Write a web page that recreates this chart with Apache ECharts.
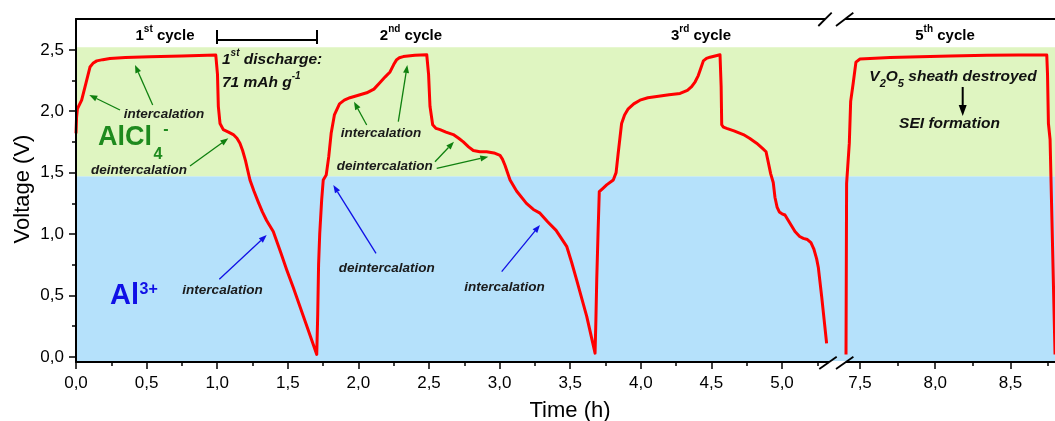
<!DOCTYPE html>
<html><head><meta charset="utf-8">
<script src="https://cdn.jsdelivr.net/npm/echarts@6/dist/echarts.min.js"></script>
<style>html,body{margin:0;padding:0;background:#fff}#c{width:1055px;height:421px}</style>
</head><body><div id="c"></div>
<script>
// ---- data (time in h, voltage in V) ----
const cycle1ChargeT = [0, 0.004, 0.01, 0.04, 0.071, 0.099, 0.12, 0.147, 0.19, 0.24, 0.35, 0.524, 0.75, 0.99];
const cycle1ChargeV = [1.82, 1.95, 2.02, 2.09, 2.23, 2.36, 2.39, 2.41, 2.42, 2.43, 2.437, 2.444, 2.45, 2.457];
const cycle1DischT = [0.996, 1.002, 1.008, 1.02, 1.043, 1.08, 1.114, 1.14, 1.161, 1.18, 1.2, 1.232, 1.26, 1.291, 1.32, 1.35, 1.397, 1.45, 1.492, 1.54, 1.586, 1.65, 1.705];
const cycle1DischV = [2.457, 2.3, 2.04, 1.90, 1.85, 1.83, 1.81, 1.78, 1.74, 1.68, 1.60, 1.44, 1.35, 1.26, 1.18, 1.11, 1.02, 0.85, 0.71, 0.56, 0.41, 0.2, 0.02];
const cycle2ChargeT = [1.712, 1.718, 1.726, 1.74, 1.751, 1.772, 1.79, 1.807, 1.83, 1.866, 1.9, 1.94, 2.0, 2.059, 2.11, 2.15, 2.19, 2.224, 2.25, 2.271, 2.29, 2.318, 2.4, 2.484];
const cycle2ChargeV = [0.35, 0.75, 1.0, 1.28, 1.44, 1.48, 1.63, 1.82, 1.97, 2.06, 2.09, 2.11, 2.13, 2.15, 2.18, 2.23, 2.28, 2.32, 2.38, 2.42, 2.435, 2.445, 2.455, 2.46];
const cycle2DischT = [2.49, 2.497, 2.507, 2.526, 2.55, 2.578, 2.62, 2.672, 2.71, 2.743, 2.78, 2.814, 2.86, 2.908, 2.96, 3.003, 3.02, 3.038, 3.074, 3.12, 3.19, 3.239, 3.286, 3.34, 3.40, 3.475, 3.51, 3.546, 3.617, 3.676];
const cycle2DischV = [2.46, 2.3, 2.04, 1.89, 1.86, 1.85, 1.83, 1.81, 1.78, 1.75, 1.71, 1.68, 1.67, 1.67, 1.66, 1.64, 1.61, 1.56, 1.44, 1.35, 1.25, 1.2, 1.17, 1.10, 1.03, 0.90, 0.77, 0.625, 0.33, 0.03];
const cycle3ChargeT = [3.682, 3.688, 3.697, 3.706, 3.73, 3.758, 3.805, 3.825, 3.84, 3.864, 3.885, 3.911, 3.95, 3.994, 4.05, 4.113, 4.2, 4.278, 4.33, 4.36, 4.385, 4.407, 4.425, 4.443, 4.465, 4.49, 4.561];
const cycle3ChargeV = [0.3, 0.63, 1.0, 1.345, 1.37, 1.40, 1.44, 1.50, 1.66, 1.90, 1.97, 2.02, 2.06, 2.09, 2.11, 2.12, 2.135, 2.145, 2.17, 2.20, 2.24, 2.29, 2.35, 2.41, 2.43, 2.44, 2.46];
const cycle3DischT = [4.565, 4.569, 4.573, 4.585, 4.608, 4.66, 4.726, 4.77, 4.82, 4.86, 4.887, 4.90, 4.92, 4.938, 4.95, 4.965, 4.981, 5.0, 5.021, 5.05, 5.092, 5.125, 5.151, 5.18, 5.205, 5.225, 5.245, 5.257, 5.281, 5.316];
const cycle3DischV = [2.46, 2.2, 1.89, 1.87, 1.86, 1.84, 1.81, 1.78, 1.74, 1.70, 1.67, 1.6, 1.49, 1.42, 1.30, 1.22, 1.18, 1.165, 1.155, 1.10, 1.02, 0.98, 0.965, 0.955, 0.93, 0.88, 0.80, 0.73, 0.49, 0.11];
const cycle5T = [7.407, 7.411, 7.429, 7.438, 7.455, 7.473, 7.485, 7.5, 7.7, 7.899, 8.1, 8.342, 8.55, 8.741, 8.746, 8.752, 8.763, 8.796];
const cycle5V = [0.02, 1.41, 1.74, 2.08, 2.23, 2.40, 2.415, 2.425, 2.437, 2.444, 2.45, 2.455, 2.457, 2.458, 2.3, 1.90, 1.77, 0.02];

// axes
const xRangeLeft = [0, 5.3895];
const xRangeRight = [7.3472, 8.7957];
const yRange = [-0.042, 2.751];
const xTicksLeft = [0, 0.5, 1.0, 1.5, 2.0, 2.5, 3.0, 3.5, 4.0, 4.5, 5.0];
const xMinorLeft = [0.25, 0.75, 1.25, 1.75, 2.25, 2.75, 3.25, 3.75, 4.25, 4.75, 5.25];
const xTicksRight = [7.5, 8.0, 8.5];
const xMinorRight = [7.75, 8.25, 8.75];
const yTicks = [0, 0.5, 1.0, 1.5, 2.0, 2.5];
const yMinor = [0.25, 0.75, 1.25, 1.75, 2.25];
// regions (V)
const bandAl = [yRange[0], 1.47];
const bandAlCl4 = [1.47, 2.52];
// first discharge span (h) and bar level (V)
const dischargeSpan = [1.0, 1.705];
const spanLevel = 2.58;
const spanTickV = [2.547, 2.661];

function pairs(T, V) { return T.map((t, i) => [t, V[i]]); }
const segLeft = [].concat(
  pairs(cycle1ChargeT, cycle1ChargeV), pairs(cycle1DischT, cycle1DischV),
  pairs(cycle2ChargeT, cycle2ChargeV), pairs(cycle2DischT, cycle2DischV),
  pairs(cycle3ChargeT, cycle3ChargeV), pairs(cycle3DischT, cycle3DischV));
const segRight = pairs(cycle5T, cycle5V);

const FONT = 'Liberation Sans, Arial, sans-serif';
const fmt = v => Number(v).toFixed(1).replace('.', ',');
const AX = { color: '#000', width: 2 };

function bottomAxis(grid, range, ticks) {
  return { type: 'value', gridIndex: grid, position: 'bottom', min: range[0], max: range[1], z: 5,
    axisLine: { show: true, onZero: false, lineStyle: AX },
    axisTick: { show: true, customValues: ticks, length: 7, lineStyle: { color: '#000', width: 1.5 } },
    axisLabel: { show: true, customValues: ticks, formatter: fmt, color: '#000', fontSize: 17, fontFamily: FONT, margin: 13 },
    splitLine: { show: false } };
}
function topAxis(grid, range) {
  return { type: 'value', gridIndex: grid, position: 'top', min: range[0], max: range[1], z: 5,
    axisLine: { show: true, onZero: false, lineStyle: AX }, axisTick: { show: false }, axisLabel: { show: false }, splitLine: { show: false } };
}
function minorX(grid, range, ticks) {
  return { type: 'value', gridIndex: grid, position: 'bottom', min: range[0], max: range[1], z: 5,
    axisLine: { show: false, onZero: false }, axisTick: { show: true, customValues: ticks, length: 4, lineStyle: { color: '#000', width: 1.5 } },
    axisLabel: { show: false }, splitLine: { show: false } };
}

function bands() {
  return { silent: true, data: [
    [{ yAxis: bandAl[0], itemStyle: { color: '#b5e1fb' } }, { yAxis: bandAl[1] }],
    [{ yAxis: bandAlCl4[0], itemStyle: { color: '#dff5c1' } }, { yAxis: bandAlCl4[1] }]
  ] };
}

// annotation helpers
function arrow(x1, y1, x2, y2, color, w, hl, hw) {
  const len = Math.hypot(x2 - x1, y2 - y1), ux = (x2 - x1) / len, uy = (y2 - y1) / len;
  const bx = x2 - ux * hl, by = y2 - uy * hl, px = -uy * hw / 2, py = ux * hw / 2;
  return [
    { type: 'line', z: 100, shape: { x1, y1, x2: bx, y2: by }, style: { stroke: color, lineWidth: w } },
    { type: 'polygon', z: 100, shape: { points: [[x2, y2], [bx + px, by + py], [bx - px, by - py]] }, style: { fill: color } }
  ];
}
function txt(x, y, text, rich, align) {
  const a = align || 'center';
  return { type: 'text', z: 100, x, y, style: { text, rich, align: a, textAlign: a, verticalAlign: 'middle', textVerticalAlign: 'middle' } };
}
function plain(x, y, text, size, color, align, weight, italic) {
  const a = align || 'center';
  return { type: 'text', z: 100, x, y, style: { text, fontFamily: FONT, fontSize: size, fontWeight: weight || 'bold', fontStyle: italic ? 'italic' : 'normal',
    fill: color, align: a, textAlign: a, verticalAlign: 'middle', textVerticalAlign: 'middle' } };
}
const bb = { fontFamily: FONT, fontWeight: 'bold', fill: '#000' };
const cycRich = { m: Object.assign({}, bb, { fontSize: 15, lineHeight: 23 }), s: Object.assign({}, bb, { fontSize: 10, lineHeight: 12, verticalAlign: 'top' }) };
const bi = { fontFamily: FONT, fontWeight: 'bold', fontStyle: 'italic', fill: '#111' };
const biRich = { m: Object.assign({}, bi, { fontSize: 15.5, lineHeight: 23 }), s: Object.assign({}, bi, { fontSize: 10, lineHeight: 12, verticalAlign: 'top' }) };
const subRich = { m: Object.assign({}, bi, { fontSize: 15.5, lineHeight: 24 }), b: Object.assign({}, bi, { fontSize: 11, lineHeight: 12, verticalAlign: 'bottom' }) };
const GREEN = '#0f800f', BLUE = '#1010e6', LBL = '#1a1a1a';

const graphics = [].concat(
  [
    txt(165, 36, '{m|1}{s|st}{m| cycle}', cycRich),
    txt(411, 36, '{m|2}{s|nd}{m| cycle}', cycRich),
    txt(701, 36, '{m|3}{s|rd}{m| cycle}', cycRich),
    txt(945, 36, '{m|5}{s|th}{m| cycle}', cycRich),
    txt(222, 60, '{m|1}{s|st}{m| discharge:}', biRich, 'left'),
    txt(222, 82.5, '{m|71 mAh g}{s|-1}', biRich, 'left'),
    txt(953, 77, '{m|V}{b|2}{m|O}{b|5}{m| sheath destroyed}', subRich),
    plain(949.5, 123.5, 'SEI formation', 15.5, '#111', 'center', 'bold', true),
    plain(98, 138, 'AlCl', 27, '#1e8a1e', 'left'),
    plain(158, 154.5, '4', 16, '#1e8a1e'),
    plain(166, 130, '-', 16, '#1e8a1e'),
    plain(110, 296, 'Al', 29, BLUE, 'left'),
    plain(139.5, 290, '3+', 16, BLUE, 'left'),
    plain(164, 114, 'intercalation', 13.5, LBL, 'center', 'bold', true),
    plain(139, 170, 'deintercalation', 13.5, LBL, 'center', 'bold', true),
    plain(222.5, 290, 'intercalation', 13.5, LBL, 'center', 'bold', true),
    plain(381, 133.5, 'intercalation', 13.5, LBL, 'center', 'bold', true),
    plain(384.7, 166, 'deintercalation', 13.5, LBL, 'center', 'bold', true),
    plain(386.7, 268.5, 'deintercalation', 13.5, LBL, 'center', 'bold', true),
    plain(504.5, 287.5, 'intercalation', 13.5, LBL, 'center', 'bold', true),
    plain(570, 411, 'Time (h)', 22, '#000', 'center', 'normal'),
    Object.assign(plain(22.5, 189, 'Voltage (V)', 22, '#000', 'center', 'normal'), { rotation: Math.PI / 2 })
  ],
  arrow(120, 110, 89.3, 95, GREEN, 1.3, 8, 6),
  arrow(152.7, 105, 135, 65, GREEN, 1.3, 8, 6),
  arrow(190, 166, 228.3, 138.3, GREEN, 1.3, 8, 6),
  arrow(366.7, 125, 354, 101.7, GREEN, 1.3, 8, 6),
  arrow(398.3, 121.7, 407.3, 65, GREEN, 1.3, 8, 6),
  arrow(435, 161.7, 454, 141.7, GREEN, 1.3, 8, 6),
  arrow(436.7, 168.3, 488.3, 156.7, GREEN, 1.3, 8, 6),
  arrow(219.3, 279.3, 266.7, 235, BLUE, 1.3, 8, 6),
  arrow(376, 253.3, 333.3, 185, BLUE, 1.3, 8, 6),
  arrow(501.7, 271.7, 540, 225, BLUE, 1.3, 8, 6),
  arrow(962.7, 87, 962.7, 116, '#000', 2, 11, 8),
  [
    // axis break
    { type: 'rect', z: 90, shape: { x: 825, y: 16, width: 20, height: 6 }, style: { fill: '#fff' } },
    { type: 'polygon', z: 90, shape: { points: [[830.6, 361], [847.3, 361], [843.1, 364.5], [826.4, 364.5]] }, style: { fill: '#fff' } },
    { type: 'line', z: 95, shape: { x1: 818.3, y1: 26, x2: 831.7, y2: 12.7 }, style: { stroke: '#000', lineWidth: 1.8 } },
    { type: 'line', z: 95, shape: { x1: 836, y1: 26, x2: 853.3, y2: 12.7 }, style: { stroke: '#000', lineWidth: 1.8 } },
    { type: 'line', z: 95, shape: { x1: 819.3, y1: 369, x2: 836.7, y2: 356.7 }, style: { stroke: '#000', lineWidth: 1.8 } },
    { type: 'line', z: 95, shape: { x1: 836, y1: 369, x2: 853.4, y2: 356.7 }, style: { stroke: '#000', lineWidth: 1.8 } }
  ]
);

const chart = echarts.init(document.getElementById('c'), null, { renderer: 'canvas' });
chart.setOption({
  animation: false,
  backgroundColor: '#fff',
  grid: [
    { left: 76, top: 19, width: 761, height: 343, containLabel: false, outerBoundsMode: 'none' },
    { left: 837, top: 19, width: 218, height: 343, containLabel: false, outerBoundsMode: 'none' }
  ],
  xAxis: [
    bottomAxis(0, xRangeLeft, xTicksLeft), topAxis(0, xRangeLeft),
    bottomAxis(1, xRangeRight, xTicksRight), topAxis(1, xRangeRight),
    minorX(0, xRangeLeft, xMinorLeft), minorX(1, xRangeRight, xMinorRight)
  ],
  yAxis: [
    { type: 'value', gridIndex: 0, position: 'left', min: yRange[0], max: yRange[1], z: 5,
      axisLine: { show: true, onZero: false, lineStyle: AX },
      axisTick: { show: true, customValues: yTicks, length: 7, lineStyle: { color: '#000', width: 1.5 } },
      axisLabel: { show: true, customValues: yTicks, formatter: fmt, color: '#000', fontSize: 17, fontFamily: FONT, margin: 12 },
      splitLine: { show: false } },
    { type: 'value', gridIndex: 0, position: 'left', min: yRange[0], max: yRange[1], z: 5,
      axisLine: { show: false, onZero: false }, axisTick: { show: true, customValues: yMinor, length: 4, lineStyle: { color: '#000', width: 1.5 } },
      axisLabel: { show: false }, splitLine: { show: false } },
    { type: 'value', gridIndex: 1, position: 'left', min: yRange[0], max: yRange[1], show: false, splitLine: { show: false } }
  ],
  series: [
    { type: 'line', xAxisIndex: 0, yAxisIndex: 0, data: segLeft, showSymbol: false, symbol: 'none', z: 3,
      lineStyle: { color: '#ff0000', width: 3, join: 'round' }, silent: true,
      markArea: bands(),
      markLine: { silent: true, symbol: 'none', label: { show: false }, lineStyle: { color: '#000', width: 2, type: 'solid' },
        data: [
          [{ coord: [dischargeSpan[0], spanLevel] }, { coord: [dischargeSpan[1], spanLevel] }],
          [{ coord: [dischargeSpan[0], spanTickV[0]] }, { coord: [dischargeSpan[0], spanTickV[1]] }],
          [{ coord: [dischargeSpan[1], spanTickV[0]] }, { coord: [dischargeSpan[1], spanTickV[1]] }]
        ] } },
    { type: 'line', xAxisIndex: 2, yAxisIndex: 2, data: segRight, showSymbol: false, symbol: 'none', z: 3,
      lineStyle: { color: '#ff0000', width: 3, join: 'round' }, silent: true,
      markArea: bands() }
  ],
  graphic: graphics
});
</script></body></html>
